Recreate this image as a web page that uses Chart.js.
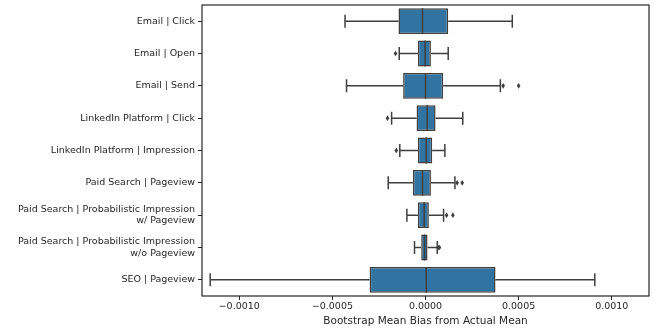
<!DOCTYPE html>
<html>
<head>
<meta charset="utf-8">
<script src="https://cdn.jsdelivr.net/npm/chart.js@4/dist/chart.umd.min.js"></script>
<style>
  html, body { margin: 0; padding: 0; background: #ffffff; }
  #wrap { width: 663px; height: 329px; position: relative; }
</style>
</head>
<body>
<div id="wrap"><canvas id="c" width="663" height="329"></canvas></div>
<script>
// Channel | event categories (multi-line ones given as arrays)
const categories = [
  'Email | Click',
  'Email | Open',
  'Email | Send',
  'LinkedIn Platform | Click',
  'LinkedIn Platform | Impression',
  'Paid Search | Pageview',
  ['Paid Search | Probabilistic Impression', 'w/ Pageview'],
  ['Paid Search | Probabilistic Impression', 'w/o Pageview'],
  'SEO | Pageview'
];

// Box statistics per category
const whiskerLow  = [-0.000432, -0.000141, -0.000424, -0.000182, -0.000138, -0.000200, -0.000100, -0.000059, -0.001156];
const q1          = [-0.000145, -0.000041, -0.000120, -0.000048, -0.000041, -0.000068, -0.000041, -0.000023, -0.000300];
const median      = [-0.000016, -0.000002,  0.000000,  0.000009,  0.000004, -0.000016, -0.000007, -0.000005,  0.000004];
const q3          = [ 0.000122,  0.000029,  0.000095,  0.000054,  0.000036,  0.000029,  0.000018,  0.000011,  0.000376];
const whiskerHigh = [ 0.000466,  0.000122,  0.000402,  0.000200,  0.000104,  0.000158,  0.000097,  0.000063,  0.000909];
const outliers    = [
  [],
  [-0.000161],
  [0.000417, 0.000500],
  [-0.000204],
  [-0.000157],
  [0.000170, 0.000197],
  [0.000113, 0.000147],
  [0.000068, 0.000075],
  []
];

// X axis ticks
const xTicks = [-0.0010, -0.0005, 0.0000, 0.0005, 0.0010];
const xMin = -0.0012, xMax = 0.0012;

const BOX_FILL = '#3274a1';
const LINE = '#3f3f3f';
const INK = '#262626';
const FONT = 'DejaVu Sans';

// Whiskers, caps, medians, fliers and the axes frame
const boxExtras = {
  id: 'boxExtras',
  afterDatasetsDraw(chart) {
    const ctx = chart.ctx;
    const xs = chart.scales.x, ys = chart.scales.y;
    const meta = chart.getDatasetMeta(0);
    ctx.save();
    ctx.strokeStyle = LINE;
    ctx.lineWidth = 1.5;
    categories.forEach((_, i) => {
      const bar = meta.data[i];
      const yc = ys.getPixelForValue(i);
      const h = bar.height;
      const capH = h / 2;
      const xlo = xs.getPixelForValue(whiskerLow[i]);
      const xq1 = xs.getPixelForValue(q1[i]);
      const xmed = xs.getPixelForValue(median[i]);
      const xq3 = xs.getPixelForValue(q3[i]);
      const xhi = xs.getPixelForValue(whiskerHigh[i]);
      ctx.beginPath();
      ctx.moveTo(xlo, yc); ctx.lineTo(xq1, yc);
      ctx.moveTo(xq3, yc); ctx.lineTo(xhi, yc);
      ctx.moveTo(xlo, yc - capH / 2); ctx.lineTo(xlo, yc + capH / 2);
      ctx.moveTo(xhi, yc - capH / 2); ctx.lineTo(xhi, yc + capH / 2);
      ctx.moveTo(xmed, yc - h / 2); ctx.lineTo(xmed, yc + h / 2);
      ctx.stroke();
      ctx.fillStyle = LINE;
      outliers[i].forEach(v => {
        const px = xs.getPixelForValue(v);
        ctx.beginPath();
        ctx.moveTo(px, yc - 2.8);
        ctx.lineTo(px + 1.8, yc);
        ctx.lineTo(px, yc + 2.8);
        ctx.lineTo(px - 1.8, yc);
        ctx.closePath();
        ctx.fill();
      });
    });
    const a = chart.chartArea;
    ctx.strokeStyle = INK;
    ctx.lineWidth = 1.2;
    ctx.strokeRect(a.left, a.top, a.right - a.left, a.bottom - a.top);
    ctx.restore();
  }
};

new Chart(document.getElementById('c'), {
  type: 'bar',
  data: {
    labels: categories,
    datasets: [{
      data: categories.map((_, i) => [q1[i], q3[i]]),
      backgroundColor: BOX_FILL,
      borderColor: LINE,
      borderWidth: 1.5,
      borderSkipped: false,
      barPercentage: 1.0,
      categoryPercentage: 0.8
    }]
  },
  options: {
    indexAxis: 'y',
    responsive: false,
    animation: false,
    devicePixelRatio: 1,
    layout: { padding: { left: 0, top: 5, right: 14, bottom: 0 } },
    plugins: { legend: { display: false }, tooltip: { enabled: false } },
    scales: {
      x: {
        type: 'linear',
        min: xMin,
        max: xMax,
        afterBuildTicks(scale) { scale.ticks = xTicks.map(v => ({ value: v })); },
        afterFit(scale) {
          scale.height = 33;
          scale.paddingLeft = 0;
          scale.paddingRight = 0;
        },
        grid: { drawOnChartArea: false, tickLength: 4, tickColor: INK, tickWidth: 1 },
        border: { display: false },
        ticks: {
          color: INK,
          padding: 1,
          font: { family: FONT, size: 9.5 },
          maxRotation: 0,
          callback: v => (v < 0 ? '\u2212' : '') + Math.abs(v).toFixed(4)
        },
        title: {
          display: true,
          text: 'Bootstrap Mean Bias from Actual Mean',
          color: INK,
          font: { family: FONT, size: 10.5 },
          padding: { top: 0, bottom: 1 }
        }
      },
      y: {
        afterFit(scale) {
          scale.width = 202;
          scale.paddingTop = 0;
          scale.paddingBottom = 0;
        },
        grid: { drawOnChartArea: false, offset: false, tickLength: 4, tickColor: INK, tickWidth: 1 },
        border: { display: false },
        ticks: {
          color: INK,
          padding: 3,
          font: { family: FONT, size: 9.5 },
          autoSkip: false
        }
      }
    }
  },
  plugins: [boxExtras]
});
</script>
</body>
</html>
